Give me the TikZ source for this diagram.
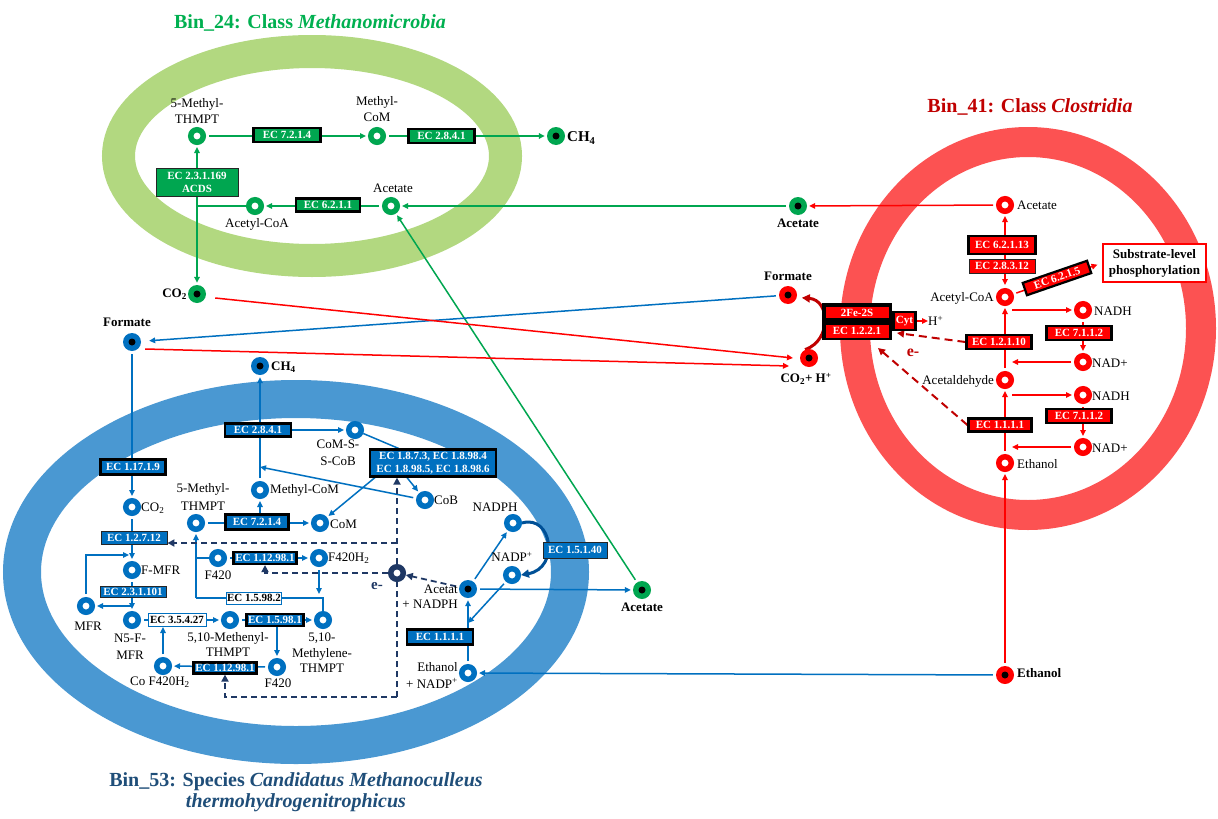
\documentclass[tikz,border=0pt]{standalone}
\usepackage{fontspec}
\setmainfont{Liberation Serif}
\usetikzlibrary{arrows.meta,calc}
\definecolor{gN}{RGB}{0,166,80}
\definecolor{gRing}{RGB}{178,216,128}
\definecolor{gTitle}{RGB}{0,176,80}
\definecolor{rN}{RGB}{255,0,0}
\definecolor{rRing}{RGB}{252,82,82}
\definecolor{rDark}{RGB}{192,0,0}
\definecolor{bN}{RGB}{0,112,192}
\definecolor{bRing}{RGB}{74,152,210}
\definecolor{bTitle}{RGB}{31,78,121}
\definecolor{navy}{RGB}{31,56,100}
\definecolor{bCurve}{RGB}{0,80,150}
\pgfdeclarelayer{bg}\pgfdeclarelayer{lines}\pgfsetlayers{bg,lines,main}
\newcommand\ecf{\bfseries\fontsize{11}{12}\selectfont}
\newcommand\ecfm{\bfseries\fontsize{11}{13}\selectfont}
\newcommand\lbf{\fontsize{13}{16}\selectfont}
\newcommand\ttlf{\bfseries\fontsize{20}{21}\selectfont}
\begin{document}
\begin{tikzpicture}[x=1pt,y=-1pt,
  >={Triangle[length=6pt,width=5.5pt]},
  met/.style={circle, draw=#1, line width=5.5pt, fill=white, minimum size=12.5pt, inner sep=0pt},
  ext/.style={circle, fill=#1, minimum size=18pt, inner sep=0pt, path picture={\fill[black] (path picture bounding box.center) circle[radius=3.5pt];}},
  ecb/.style={draw=black, line width=2.2pt, fill=#1, text=white, font=\ecf, inner sep=0pt, minimum height=14pt},
  ecn/.style={draw=black!85, line width=0.9pt, fill=#1, text=white, font=\ecf, inner sep=0pt, minimum height=14pt},
  ecw/.style={draw=bN, line width=1pt, fill=white, text=black, font=\ecf, inner sep=0pt, minimum height=12pt},
  lbl/.style={font=\lbf, inner sep=0pt, align=center},
  lbb/.style={font=\lbf\bfseries, inner sep=0pt, align=center},
  arr/.style={line width=1.5pt, draw=#1, ->, shorten >=2pt, shorten <=3pt},
  ln/.style={line width=1.5pt, draw=#1},
  nd/.style={line width=1.8pt, draw=navy, dash pattern=on 6pt off 4pt},
  rd/.style={line width=2pt, draw=rDark, dash pattern=on 8pt off 5pt}]

\begin{pgfonlayer}{bg}
\fill[white] (0,0) rectangle (1218,819);
\draw[gRing, line width=33pt] (312,156) ellipse [x radius=193.5, y radius=104.5];
\draw[rRing, line width=30pt] (1028,328.5) ellipse [x radius=173, y radius=186.5];
\draw[bRing, line width=38pt] (296,572) ellipse [x radius=274, y radius=173];
\end{pgfonlayer}
\useasboundingbox (0,0) rectangle (1218,819);

% titles
\node[font=\ttlf, text=gTitle, inner sep=0pt] (t24) at (310,23) {Bin\_24: Class \textit{Methanomicrobia}};
\node[font=\ttlf, text=rDark, inner sep=0pt] (t41) at (1030,107) {Bin\_41: Class \textit{Clostridia}};
\node[font=\ttlf, text=bTitle, inner sep=0pt, align=center] (t53) at (296,792.5) {Bin\_53: Species \textit{Candidatus Methanoculleus}\\\textit{thermohydrogenitrophicus}};

% ---------------- green
\node[ecb=gN, minimum width=67pt, minimum height=14pt] (g7214) at (287,135) {EC 7.2.1.4};
\node[ecb=gN, minimum width=66pt, minimum height=14pt] (g2841) at (441.5,136) {EC 2.8.4.1};
\node[ecb=gN, minimum width=64pt, minimum height=13pt] (g6211) at (328,205) {EC 6.2.1.1};
\node[ecn=gN, minimum width=82pt, minimum height=28pt, align=center, font=\ecfm] (gacds) at (197,182) {EC 2.3.1.169\\ACDS};
\node[met=gN] (g5m) at (197,136) {};
\node[met=gN] (gmcom) at (377,136) {};
\node[ext=gN] (gch4) at (556,136) {};
\node[met=gN] (gace) at (391,206) {};
\node[met=gN] (gaccoa) at (255,206) {};
\node[ext=gN] (gco2) at (197,294) {};
\node[ext=gN] (gacex) at (798,206) {};
\node[ext=gN] (gace2) at (642,590) {};
\coordinate (gj) at (197,206);
\node[lbl, font=\fontsize{13}{16.5}\selectfont] (l5m) at (197,111) {5-Methyl-\\THMPT};
\node[lbl, font=\fontsize{13}{16.5}\selectfont] (lmcom) at (377,109) {Methyl-\\CoM};
\node[lbl] (lgace) at (393,188) {Acetate};
\node[lbl] (lgaccoa) at (257,224) {Acetyl-CoA};
\node[lbb, font=\bfseries\fontsize{15}{17}\selectfont, anchor=west] (lgch4) at (567,138) {CH\textsubscript{4}};
\node[lbb, anchor=east] (lgco2) at (187,294) {CO\textsubscript{2}};
\node[lbb] (lgacex) at (798,223) {Acetate};
\node[lbb] (lgace2) at (642,607) {Acetate};

% ---------------- red
\node[ecb=rN, minimum width=67pt, minimum height=18pt] (r62113) at (1002,245) {EC 6.2.1.13};
\node[ecn=rN, minimum width=66pt, minimum height=14pt] (r28312) at (1002,266) {EC 2.8.3.12};
\node[ecb=rN, minimum width=68pt, minimum height=13pt, rotate=19] (r6215) at (1057,278) {EC 6.2.1.5};
\node[ecb=rN, minimum width=65pt, minimum height=14pt] (r7112a) at (1079,333) {EC 7.1.1.2};
\node[ecb=rN, minimum width=65pt, minimum height=14pt] (r7112b) at (1079,416) {EC 7.1.1.2};
\node[ecb=rN, minimum width=65pt, minimum height=14pt] (r12110) at (999,342) {EC 1.2.1.10};
\node[ecb=rN, minimum width=63pt, minimum height=13pt] (r1111) at (1000,425) {EC 1.1.1.1};
\node[draw=rN, line width=1.5pt, fill=white, minimum width=103pt, minimum height=38pt, align=center, font=\bfseries\fontsize{13}{16}\selectfont, inner sep=0pt] (slp) at (1154.5,263) {Substrate-level\\phosphorylation};
\node[fill=black, minimum width=70pt, minimum height=37pt, inner sep=0pt] (fegrp) at (857,321.5) {};
\node[fill=rN, text=white, font=\ecf, minimum width=63pt, minimum height=11pt, inner sep=0pt] (fe2s) at (857,312.5) {2Fe-2S};
\node[fill=rN, text=white, font=\ecf, minimum width=63pt, minimum height=13pt, inner sep=0pt] (ec1221) at (857,331) {EC 1.2.2.1};
\node[ecb=rN, minimum width=22pt, minimum height=18pt] (cyt) at (904.5,321) {Cyt};
\node[met=rN] (racet) at (1005,205) {};
\node[met=rN] (raccoa) at (1005,297) {};
\node[met=rN] (rnadh1) at (1083,310) {};
\node[met=rN] (rnad1) at (1083,362) {};
\node[met=rN] (racald) at (1005,380) {};
\node[met=rN] (rnadh2) at (1083,395) {};
\node[met=rN] (rnad2) at (1083,447) {};
\node[met=rN] (retoh) at (1005,463) {};
\node[ext=rN] (rexetoh) at (1005,675) {};
\node[ext=rN] (rform) at (788,295) {};
\node[ext=rN] (rco2) at (809,358) {};
\node[lbl, anchor=west] (lracet) at (1017,205) {Acetate};
\node[lbl, anchor=east] (lraccoa) at (994,298) {Acetyl-CoA};
\node[lbl, anchor=west] (lnadh1) at (1094,311) {NADH};
\node[lbl, anchor=west] (lnad1) at (1092,363) {NAD+};
\node[lbl, anchor=east] (lracald) at (994,381) {Acetaldehyde};
\node[lbl, anchor=west] (lnadh2) at (1092,396) {NADH};
\node[lbl, anchor=west] (lnad2) at (1092,448) {NAD+};
\node[lbl, anchor=west] (lretoh) at (1017,464) {Ethanol};
\node[lbb, anchor=west] (lrexetoh) at (1017,673) {Ethanol};
\node[lbb] (lrform) at (788,276) {Formate};
\node[lbb] (lrco2) at (806,379) {CO\textsubscript{2}+ H\textsuperscript{+}};
\node[lbl, anchor=west] (lhp) at (928,321) {H\textsuperscript{+}};
\node[font=\bfseries\fontsize{16}{16}\selectfont, text=rDark, inner sep=0pt] (lre) at (913,353) {e-};
\coordinate (ra) at (1012,0);
\coordinate (re1) at (897,333);
\coordinate (re2) at (878,348);

% ---------------- blue
\node[ecb=bN, minimum width=66pt, minimum height=13pt] (b2841) at (258,430) {EC 2.8.4.1};
\node[ecb=bN, minimum width=65pt, minimum height=15pt] (b11719) at (133,467) {EC 1.17.1.9};
\node[ecn=bN, minimum width=66pt, minimum height=13pt] (b12712) at (134,538) {EC 1.2.7.12};
\node[ecb=bN, minimum width=63pt, minimum height=15pt] (b7214) at (257,522) {EC 7.2.1.4};
\node[ecb=bN, minimum width=126pt, minimum height=27pt, align=center, font=\ecfm] (b1873) at (433,463) {EC 1.8.7.3, EC 1.8.98.4\\EC 1.8.98.5, EC 1.8.98.6};
\node[ecb=bN, minimum width=63pt, minimum height=12pt] (b1129a) at (265,558) {EC 1.12.98.1};
\node[ecn=bN, minimum width=66pt, minimum height=11pt] (b231101) at (133,592) {EC 2.3.1.101};
\node[ecw, minimum width=58pt, minimum height=13pt] (b35427) at (177,620) {EC 3.5.4.27};
\node[ecb=bN, minimum width=57pt, minimum height=12pt] (b15981) at (275,620) {EC 1.5.98.1};
\node[ecw, minimum width=55pt, minimum height=12pt] (b15982) at (254,598) {EC 1.5.98.2};
\node[ecb=bN, minimum width=63pt, minimum height=11pt] (b1129b) at (225,668) {EC 1.12.98.1};
\node[ecn=bN, minimum width=64pt, minimum height=16pt] (b15140) at (575,550) {EC 1.5.1.40};
\node[ecb=bN, minimum width=66pt, minimum height=15pt] (b1111) at (440,637) {EC 1.1.1.1};

\node[ext=bN] (bform) at (132,342) {};
\node[ext=bN] (bch4) at (260,366) {};
\node[met=bN] (bcomsscob) at (355,430) {};
\node[met=bN] (bcob) at (425,500) {};
\node[met=bN] (bmcom) at (260,490) {};
\node[met=bN] (bco2) at (132,507) {};
\node[met=bN] (b5m) at (196,523) {};
\node[met=bN] (bcom) at (320,523) {};
\node[met=bN] (bf420a) at (218,558) {};
\node[met=bN] (bf420h2) at (319,558) {};
\node[met=bN] (bfmfr) at (132,570) {};
\node[met=bN] (bmfr) at (86,606) {};
\node[met=bN] (bn5) at (132,620) {};
\node[met=bN] (bmethenyl) at (230,620) {};
\node[met=bN] (bmethylene) at (323,620) {};
\node[met=bN] (bf420b) at (277,667) {};
\node[met=bN] (bcof) at (163,666) {};
\node[met=bN] (bnadph) at (513,523) {};
\node[met=bN] (bnadp) at (512,575) {};
\node[ext=bN] (bacetat) at (468,589) {};
\node[met=bN] (betoh) at (468,673) {};
\node[met=navy] (be) at (397,573) {};

\node[lbb] (lbform) at (127,322) {Formate};
\node[lbb, anchor=west] (lbch4) at (271,367) {CH\textsubscript{4}};
\node[lbl, font=\fontsize{13}{17}\selectfont] (lbcomss) at (338,453) {CoM-S-\\S-CoB};
\node[lbl, anchor=west] (lbcob) at (434,500) {CoB};
\node[lbl, anchor=west] (lbmcom) at (270,490) {Methyl-CoM};
\node[lbl, anchor=west] (lbco2) at (141,508) {CO\textsubscript{2}};
\node[lbl, font=\fontsize{13}{18}\selectfont] (lb5m) at (203,497) {5-Methyl-\\THMPT};
\node[lbl, anchor=west] (lbcom) at (330,524) {CoM};
\node[lbl] (lbf420a) at (218,575) {F420};
\node[lbl, anchor=west] (lbf420h2) at (328,558) {F420H\textsubscript{2}};
\node[lbl, anchor=west] (lbfmfr) at (141,570) {F-MFR};
\node[lbl] (lbmfr) at (88,626) {MFR};
\node[lbl, font=\fontsize{13}{17}\selectfont] (lbn5) at (130,646.5) {N5-F-\\MFR};
\node[lbl, font=\fontsize{13}{15.5}\selectfont] (lbmeth) at (228,644.5) {5,10-Methenyl-\\THMPT};
\node[lbl, font=\fontsize{13}{15.5}\selectfont] (lbmethy) at (322,653) {5,10-\\Methylene-\\THMPT};
\node[lbl] (lbf420b) at (278,683) {F420};
\node[lbl] (lbcof) at (160,682) {Co F420H\textsubscript{2}};
\node[lbl] (lbnadph) at (495,507) {NADPH};
\node[lbl] (lbnadp) at (512,557) {NADP\textsuperscript{+}};
\node[lbl, align=right, anchor=east, font=\fontsize{13}{15}\selectfont] (lbacetat) at (458,597) {Acetat\\+ NADPH};
\node[lbl, align=right, anchor=east, font=\fontsize{13}{17}\selectfont] (lbetoh) at (458,675) {Ethanol\\+ NADP\textsuperscript{+}};
\node[font=\bfseries\fontsize{15}{15}\selectfont, text=navy, inner sep=0pt] (lbe) at (377,586) {e-};
\coordinate (bj1) at (132,606);
\coordinate (bj2) at (129,555);
\coordinate (bj3) at (196,598);
\coordinate (bj4) at (323,598);
\coordinate (bj5) at (196,558);
\coordinate (bj6) at (260,467);
\coordinate (bj7) at (468,623);
\coordinate (dB) at (397,697);
\coordinate (dH) at (397,543);

% ---------------- connectors
\begin{pgfonlayer}{lines}
% green
\draw[arr=gN] (g5m) -- (gmcom);
\draw[arr=gN] (gmcom) -- (gch4);
\draw[arr=gN] (gace) -- (gaccoa);
\draw[ln=gN] (gaccoa) -- (gj);
\draw[arr=gN, shorten <=0pt] (gj) -- (g5m);
\draw[arr=gN, shorten <=0pt] (gj) -- (gco2);
\draw[arr=gN] (gacex) -- (gace);
\draw[arr=gN] (gace2) -- (gace);
% red
\draw[arr=rN, <->] (raccoa) -- (racet);
\draw[arr=rN, shorten >=5pt] (raccoa) -- (slp.west);
\draw[arr=rN, shorten <=0pt] (rnadh1 -| ra) -- (rnadh1);
\draw[arr=rN] (rnadh1) -- (rnad1);
\draw[arr=rN, shorten >=0pt] (rnad1) -- (rnad1 -| ra);
\draw[arr=rN] (racald) -- (raccoa);
\draw[arr=rN, shorten <=0pt] (rnadh2 -| ra) -- (rnadh2);
\draw[arr=rN] (rnadh2) -- (rnad2);
\draw[arr=rN, shorten >=0pt] (rnad2) -- (rnad2 -| ra);
\draw[arr=rN] (retoh) -- (racald);
\draw[arr=rN] (rexetoh) -- (retoh);
\draw[arr=rN] (racet) -- (gacex);
\draw[arr=rN, shorten <=0pt, shorten >=0pt] (cyt.east) -- (lhp.west);
\draw[line width=3pt, rDark, -{Triangle[length=8pt,width=8pt]}, shorten >=5pt] (rco2.115) .. controls (832,340) and (830,300) .. (rform.-15);
\draw[rd, -{Triangle[length=7pt,width=7pt]}] (r12110.west) -- (re1);
\draw[rd, -{Triangle[length=7pt,width=7pt]}] (r1111.west) -- (re2);
% crossing lines
\draw[arr=bN, shorten >=8pt] (rform) -- (bform);
\draw[arr=rN, shorten <=0pt, shorten >=0pt] ([xshift=9pt,yshift=-4pt]gco2.east) -- ([xshift=-16pt]rco2.center);
\draw[arr=rN, shorten <=0pt, shorten >=0pt] ([xshift=4pt,yshift=-7pt]bform.east) -- ([xshift=-20pt,yshift=-8pt]rco2.center);
% blue
\draw[arr=bN] (bform) -- (bco2);
\draw[arr=bN] (bco2) -- (bfmfr);
\draw[arr=bN] (bfmfr) -- (bn5);
\draw[arr=bN, shorten <=0pt] (bj1) -- (bmfr);
\draw[arr=bN, shorten >=0pt] (bmfr) |- (bj2);
\draw[arr=bN] (bn5) -- (bmethenyl);
\draw[arr=bN, shorten >=0pt] (bcof) -- (bcof |- b35427.south);
\draw[arr=bN] (bmethenyl) -- (bmethylene);
\draw[arr=bN, shorten <=0pt] (bf420b |- b15981.south) -- (bf420b);
\draw[arr=bN] (bf420b) -- (bcof);
\draw[arr=bN, shorten <=0pt] (bj3) -- (b5m);
\draw[ln=bN] (bj3) -- (bj4) -- (bmethylene);
\draw[ln=bN] (bj5) -- (bf420a);
\draw[arr=bN] (bf420a) -- (bf420h2);
\draw[arr=bN, shorten >=4pt] (bf420h2) -- (bf420h2 |- bj4);
\draw[arr=bN] (b5m) -- (bcom);
\draw[arr=bN, shorten <=0pt] (bmcom |- b7214.north) -- (bmcom);
\draw[arr=bN] (bmcom) -- (bch4);
\draw[arr=bN, shorten <=0pt] (b2841.east) -- (bcomsscob);
\draw[arr=bN, shorten >=0pt] (bcob) -- (bj6);
\draw[ln=bN] (bcomsscob) -- (b1873);
\draw[arr=bN, shorten <=0pt] ([xshift=-26pt]b1873.south) -- (bcob);
\draw[arr=bN, shorten <=0pt] ([xshift=6pt]b1873.south west) -- (bcom);
\draw[arr=bN] (bacetat) -- (bnadph);
\draw[arr=bN] (betoh) -- (bacetat);
\draw[arr=bN, shorten >=0pt] (bnadp) -- (bj7);
\draw[arr=bN] (bacetat) -- (gace2);
\draw[line width=3pt, bCurve, -{Triangle[length=8pt,width=8pt]}] (bnadph.east) .. controls (552,514) and (560,568) .. (bnadp.east);
\draw[arr=bN] (rexetoh) -- (betoh);
% navy dashed
\draw[nd, -{Triangle[length=7pt,width=7pt]}, shorten <=3pt] (bacetat) -- (be);
\draw[nd] (dB) -- (be);
\draw[nd, -{Triangle[length=7pt,width=7pt]}] (be) -- (be |- b1873.south);
\draw[nd, -{Triangle[length=7pt,width=7pt]}] (dH) -- (b12712.east |- dH);
\draw[nd, -{Triangle[length=7pt,width=7pt]}] (be) -| (b1129a.south);
\draw[nd, -{Triangle[length=7pt,width=7pt]}] (dB) -| (b1129b.south);
\end{pgfonlayer}
\end{tikzpicture}
\end{document}
